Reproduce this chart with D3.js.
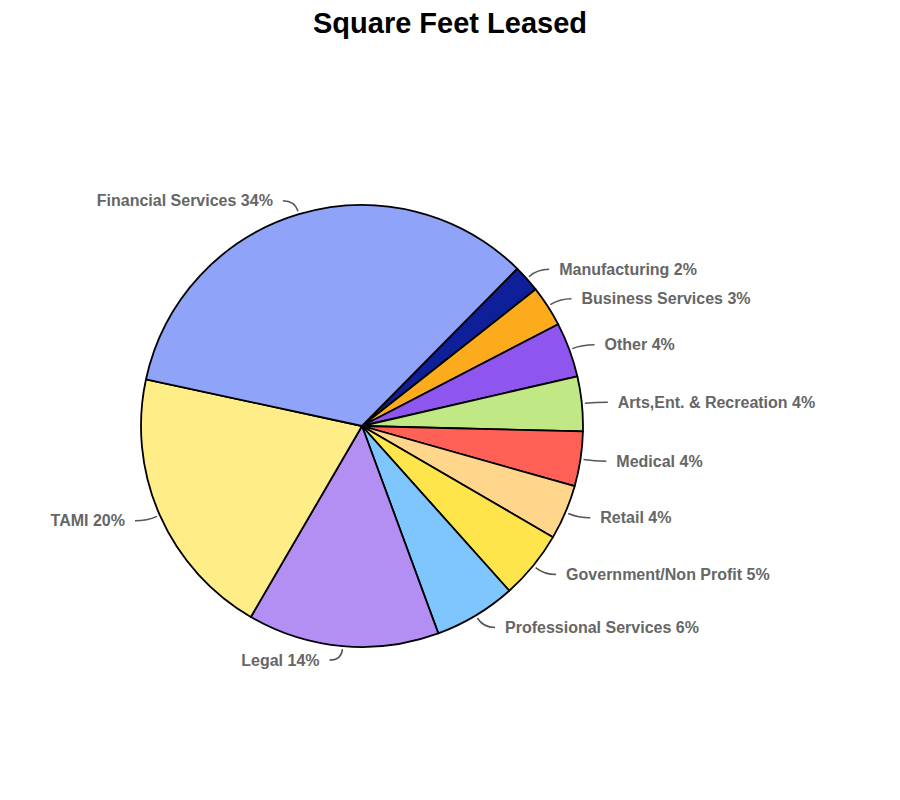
<!DOCTYPE html><html><head><meta charset="utf-8"><script src="https://cdn.jsdelivr.net/npm/d3@7"></script>
<style>body{margin:0;background:#fff}</style></head><body><svg id="c" width="900" height="800"></svg>
<script>
const categories=["Manufacturing","Business Services","Other","Arts,Ent. & Recreation","Medical","Retail","Government/Non Profit","Professional Services","Legal","TAMI","Financial Services"];
const values=[2,3,4,4,4,4,5,6,14,20,34];
const colors=["#0f1f99","#fbab1c","#8e55ef","#c0e884","#ff6157","#ffd68c","#ffe54c","#80c6fe","#b38ff4","#ffed88","#8fa3f8"];
const svg=d3.select("#c"),cx=362,cy=426,R=221;
svg.append("text").attr("x",450).attr("y",33).attr("text-anchor","middle").attr("font-family","Liberation Sans, Arial").attr("font-weight","bold").attr("font-size",29).text("Square Feet Leased");
const start=44.6*Math.PI/180;
const pie=d3.pie().sort(null).value(d=>d).startAngle(start).endAngle(start+2*Math.PI);
const arcs=pie(values);
const g=svg.append("g").attr("transform",`translate(${cx},${cy})`);
g.selectAll("path").data(arcs).join("path").attr("d",d3.arc().innerRadius(0).outerRadius(R)).attr("fill",(d,i)=>colors[i]).attr("stroke","#000").attr("stroke-width",1.8).attr("stroke-linejoin","round");
arcs.forEach((d,i)=>{
  const a=(d.startAngle+d.endAngle)/2, s=Math.sin(a), c=-Math.cos(a);
  const x0=s*(R+3),y0=c*(R+3),x1=s*(R+14),y1=c*(R+14);
  const right=s>0, x2=x1+(right?12:-12);
  g.append("path").attr("d",`M${x0},${y0}Q${x1},${y1} ${x2},${y1}`).attr("fill","none").attr("stroke","#555").attr("stroke-width",1.5);
  g.append("text").attr("x",x2+(right?10:-10)).attr("y",y1).attr("dy","0.35em").attr("text-anchor",right?"start":"end")
   .attr("font-family","Liberation Sans, Arial").attr("font-weight","bold").attr("font-size",16).attr("fill","#666")
   .text(categories[i]+" "+values[i]+"%");
});
</script></body></html>
